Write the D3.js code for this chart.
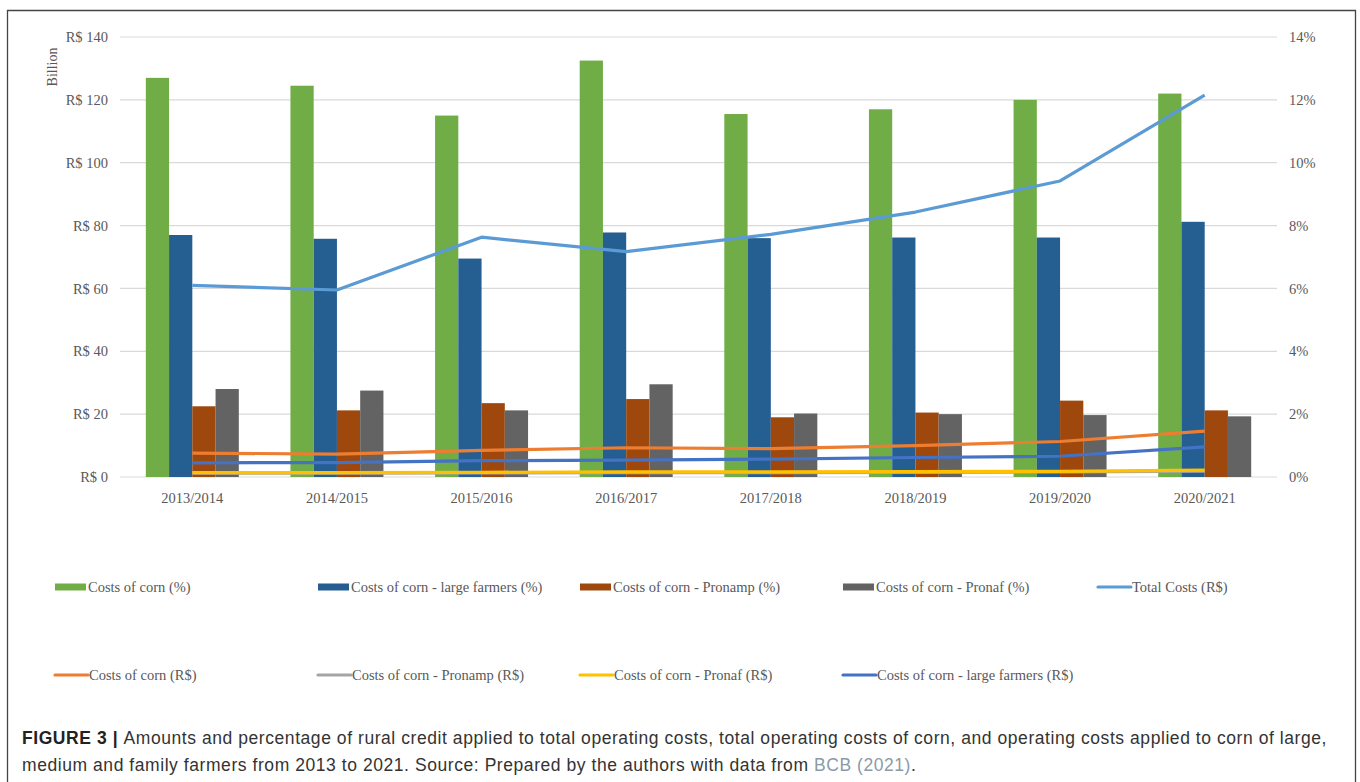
<!DOCTYPE html>
<html>
<head>
<meta charset="utf-8">
<script src="https://cdn.jsdelivr.net/npm/d3@7"></script>
<style>
  html, body { margin: 0; padding: 0; background: #fff; }
  svg { display: block; }
</style>
</head>
<body>
<svg id="chart" width="1360" height="782"></svg>
<script>
// Crop seasons
const seasons = ["2013/2014", "2014/2015", "2015/2016", "2016/2017", "2017/2018", "2018/2019", "2019/2020", "2020/2021"];

// Bar series: share of rural credit (%), plotted on the right axis
const costsCornPct      = [12.7, 12.45, 11.5, 13.25, 11.55, 11.7, 12.0, 12.2];
const largeFarmersPct   = [7.7, 7.58, 6.95, 7.78, 7.6, 7.62, 7.62, 8.12];
const pronampPct        = [2.25, 2.12, 2.35, 2.48, 1.9, 2.05, 2.43, 2.12];
const pronafPct         = [2.8, 2.75, 2.12, 2.95, 2.02, 2.0, 1.97, 1.93];

// Line series: amounts in R$ billion, plotted on the left axis
const totalCosts        = [61.0, 59.5, 76.3, 71.7, 77.2, 84.3, 94.2, 121.5];
const costsCornRS       = [7.6, 7.3, 8.5, 9.3, 9.0, 10.0, 11.3, 14.6];
const pronampRS         = [1.2, 1.2, 1.3, 1.4, 1.4, 1.5, 1.6, 1.9];
const pronafRS          = [1.4, 1.4, 1.5, 1.6, 1.6, 1.7, 1.8, 2.2];
const largeFarmersRS    = [4.5, 4.6, 5.2, 5.4, 5.7, 6.2, 6.6, 9.6];

// Axis ticks
const leftTicks  = [0, 20, 40, 60, 80, 100, 120, 140];
const rightTicks = [0, 2, 4, 6, 8, 10, 12, 14];

const barSeries = [
  { name: "Costs of corn (%)",                 values: costsCornPct,    color: "#70AD47" },
  { name: "Costs of corn - large farmers (%)", values: largeFarmersPct, color: "#255E91" },
  { name: "Costs of corn - Pronamp (%)",       values: pronampPct,      color: "#9E480E" },
  { name: "Costs of corn - Pronaf (%)",        values: pronafPct,       color: "#636363" }
];
const lineSeries = [
  { name: "Total Costs (R$)",                   values: totalCosts,     color: "#5B9BD5" },
  { name: "Costs of corn (R$)",                 values: costsCornRS,    color: "#ED7D31" },
  { name: "Costs of corn - Pronamp (R$)",       values: pronampRS,      color: "#A5A5A5" },
  { name: "Costs of corn - Pronaf (R$)",        values: pronafRS,       color: "#FFC000" },
  { name: "Costs of corn - large farmers (R$)", values: largeFarmersRS, color: "#4472C4" }
];

const svg = d3.select("#chart");
const serif = "'Liberation Serif', 'Times New Roman', serif";
const textGrey = "#595959";

// Outer frame (open at the bottom)
svg.append("path")
  .attr("d", "M7.5,782 V10.5 H1355.5 V782")
  .attr("fill", "none").attr("stroke", "#444").attr("stroke-width", 1.3);

const plotLeft = 120, plotRight = 1277, plotTop = 37, plotBottom = 477;

const x = d3.scaleBand().domain(seasons).range([plotLeft, plotRight])
  .paddingInner(0.357).paddingOuter(0.1785);
const xSub = d3.scaleBand().domain(barSeries.map(d => d.name)).range([0, x.bandwidth()]);
const yLeft = d3.scaleLinear().domain([0, 140]).range([plotBottom, plotTop]);
const yRight = d3.scaleLinear().domain([0, 14]).range([plotBottom, plotTop]);

// Gridlines
svg.append("g").selectAll("line").data(leftTicks).join("line")
  .attr("x1", plotLeft).attr("x2", plotRight)
  .attr("y1", d => yLeft(d)).attr("y2", d => yLeft(d))
  .attr("stroke", "#d9d9d9").attr("stroke-width", 1.2);

// Left axis
const leftAxis = svg.append("g")
  .attr("transform", `translate(${plotLeft - 12},0)`)
  .call(d3.axisLeft(yLeft).tickValues(leftTicks).tickSize(0).tickPadding(0)
    .tickFormat(d => "R$ " + d));
leftAxis.select(".domain").remove();
leftAxis.selectAll("text").attr("font-family", serif).attr("font-size", 14.5).attr("fill", textGrey);

// Right axis
const rightAxis = svg.append("g")
  .attr("transform", `translate(${plotRight + 12},0)`)
  .call(d3.axisRight(yRight).tickValues(rightTicks).tickSize(0).tickPadding(0)
    .tickFormat(d => d + "%"));
rightAxis.select(".domain").remove();
rightAxis.selectAll("text").attr("font-family", serif).attr("font-size", 14.5).attr("fill", textGrey);

// Left axis unit
svg.append("text")
  .attr("transform", "translate(57,67) rotate(-90)")
  .attr("text-anchor", "middle")
  .attr("font-family", serif).attr("font-size", 14).attr("fill", textGrey)
  .text("Billion");

// Category axis
const xAxis = svg.append("g")
  .attr("transform", `translate(0,${plotBottom})`)
  .call(d3.axisBottom(x).tickSize(0).tickPadding(16));
xAxis.select(".domain").remove();
xAxis.selectAll("text").attr("font-family", serif).attr("font-size", 14.5).attr("fill", textGrey);

// Bars
const groups = svg.append("g").selectAll("g").data(seasons).join("g")
  .attr("transform", d => `translate(${x(d)},0)`);
groups.selectAll("rect")
  .data((season, i) => barSeries.map(s => ({ s, v: s.values[i] })))
  .join("rect")
  .attr("x", d => xSub(d.s.name))
  .attr("width", xSub.bandwidth())
  .attr("y", d => yRight(d.v))
  .attr("height", d => yRight(0) - yRight(d.v))
  .attr("fill", d => d.s.color);

// Lines
const line = d3.line()
  .x((d, i) => x(seasons[i]) + x.bandwidth() / 2)
  .y(d => yLeft(d));
svg.append("g").selectAll("path").data(lineSeries).join("path")
  .attr("d", d => line(d.values))
  .attr("fill", "none")
  .attr("stroke", d => d.color)
  .attr("stroke-width", 3.2)
  .attr("stroke-linejoin", "round");

// Legend
const legendRows = [
  [barSeries[0], barSeries[1], barSeries[2], barSeries[3], lineSeries[0]],
  [lineSeries[1], lineSeries[2], lineSeries[3], lineSeries[4]]
];
const legendCols = [55, 318, 580, 843, 1098];
const legendY = [587, 675];
legendRows.forEach((row, r) => {
  row.forEach((s, c) => {
    const g = svg.append("g").attr("transform", `translate(${legendCols[c]},${legendY[r]})`);
    const isBar = barSeries.includes(s);
    if (isBar) {
      g.append("rect").attr("x", 0).attr("y", -3.5).attr("width", 31).attr("height", 7).attr("fill", s.color);
    } else {
      g.append("line").attr("x1", 0).attr("x2", 33).attr("y1", 0).attr("y2", 0)
        .attr("stroke", s.color).attr("stroke-width", 3.2).attr("stroke-linecap", "round");
    }
    g.append("text").attr("x", isBar ? 33 : 34).attr("y", 0).attr("dy", "0.35em")
      .attr("font-family", serif).attr("font-size", 14.5).attr("fill", textGrey)
      .text(s.name);
  });
});

// Caption
const sans = "'Liberation Sans', Arial, sans-serif";
const cap1 = svg.append("text").attr("x", 22).attr("y", 744)
  .attr("font-family", sans).attr("font-size", 17.5).attr("fill", "#333");
cap1.append("tspan").attr("font-weight", "bold").attr("fill", "#222").text("FIGURE 3 | ");
cap1.append("tspan").text("Amounts and percentage of rural credit applied to total operating costs, total operating costs of corn, and operating costs applied to corn of large,");

const cap2 = svg.append("text").attr("x", 22).attr("y", 771)
  .attr("font-family", sans).attr("font-size", 17.5).attr("fill", "#333");
cap2.append("tspan").text("medium and family farmers from 2013 to 2021. Source: Prepared by the authors with data from ");
cap2.append("tspan").attr("fill", "#8c9aa6").text("BCB (2021)");
cap2.append("tspan").text(".");

// Adjust letter spacing so the first caption line spans the text block width
const targetWidth = 1305;
const natural = cap1.node().getComputedTextLength();
const nChars = cap1.text().length;
const spacing = (targetWidth - natural) / nChars;
cap1.attr("letter-spacing", spacing);
cap2.attr("letter-spacing", spacing);
</script>
</body>
</html>
